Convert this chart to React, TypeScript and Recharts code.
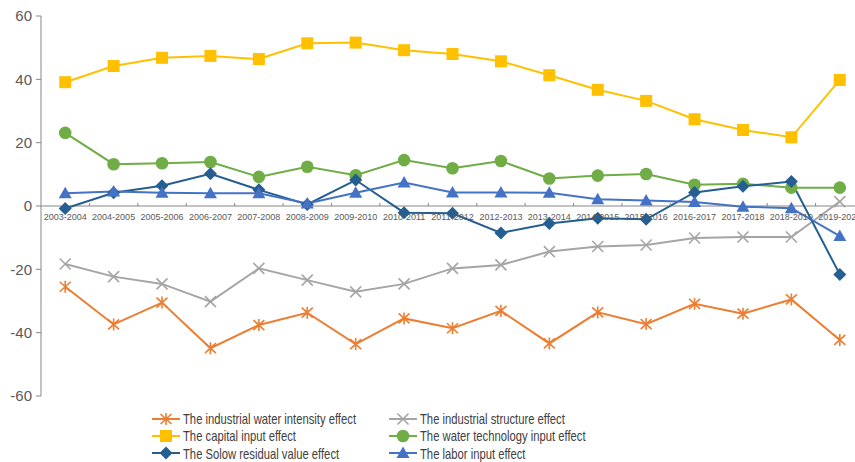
import React from "react"
import { LineChart, Line, XAxis, YAxis, ReferenceLine } from "recharts"

const PERIODS = [
  "2003-2004", "2004-2005", "2005-2006", "2006-2007", "2007-2008", "2008-2009",
  "2009-2010", "2010-2011", "2011-2012", "2012-2013", "2013-2014", "2014-2015",
  "2015-2016", "2016-2017", "2017-2018", "2018-2019", "2019-2020",
]

const WATER_INTENSITY = [-25.5, -37.4, -30.5, -44.9, -37.6, -33.7, -43.6, -35.5, -38.6, -33.1, -43.4, -33.6, -37.3, -30.9, -34.0, -29.5, -42.3]
const STRUCTURE = [-18.3, -22.3, -24.6, -30.2, -19.7, -23.4, -27.1, -24.6, -19.7, -18.6, -14.4, -12.8, -12.3, -10.1, -9.8, -9.8, 1.4]
const CAPITAL = [39.1, 44.2, 46.8, 47.4, 46.4, 51.4, 51.6, 49.2, 48.0, 45.7, 41.3, 36.7, 33.2, 27.4, 24.0, 21.7, 39.8]
const WATER_TECH = [23.1, 13.2, 13.5, 13.9, 9.2, 12.4, 9.7, 14.5, 11.9, 14.2, 8.7, 9.6, 10.1, 6.7, 7.0, 5.8, 5.8]
const SOLOW = [-0.8, 4.2, 6.4, 10.2, 5.1, 0.5, 8.2, -2.1, -2.3, -8.5, -5.5, -3.9, -4.2, 4.3, 6.2, 7.7, -21.6]
const LABOR = [4.0, 4.6, 4.2, 4.0, 4.0, 0.8, 4.2, 7.4, 4.3, 4.3, 4.2, 2.1, 1.7, 1.3, -0.2, -0.7, -9.5]

const Y_TICKS = [-60, -40, -20, 0, 20, 40, 60]

const data = PERIODS.map((period, i) => ({
  period,
  intensity: WATER_INTENSITY[i],
  structure: STRUCTURE[i],
  capital: CAPITAL[i],
  tech: WATER_TECH[i],
  solow: SOLOW[i],
  labor: LABOR[i],
}))

type MarkerKind = "asterisk" | "x" | "square" | "circle" | "diamond" | "triangle"

const SERIES: { key: string; name: string; color: string; marker: MarkerKind }[] = [
  { key: "intensity", name: "The industrial water intensity effect", color: "#ED7D31", marker: "asterisk" },
  { key: "structure", name: "The industrial structure effect", color: "#A5A5A5", marker: "x" },
  { key: "capital", name: "The capital input effect", color: "#FFC000", marker: "square" },
  { key: "tech", name: "The water technology input effect", color: "#70AD47", marker: "circle" },
  { key: "solow", name: "The Solow residual value effect", color: "#255E91", marker: "diamond" },
  { key: "labor", name: "The labor input effect", color: "#4472C4", marker: "triangle" },
]

// chart geometry (plot area runs past the right edge of the page, like the cropped original)
const CHART_W = 880
const CHART_H = 462
const TOP = 16
const RIGHT = 16
const Y_AXIS_W = 41
const X_AXIS_H = 66
const PLOT_W = CHART_W - RIGHT - Y_AXIS_W
const PLOT_H = CHART_H - TOP - X_AXIS_H
const ZERO_Y = TOP + PLOT_H / 2
const BAND = PLOT_W / PERIODS.length

function Marker({ kind, cx, cy, color }: { kind: MarkerKind; cx: number; cy: number; color: string }) {
  switch (kind) {
    case "square":
      return <rect x={cx - 6} y={cy - 6} width={12} height={12} fill={color} />
    case "circle":
      return <circle cx={cx} cy={cy} r={6.3} fill={color} />
    case "diamond":
      return <path d={`M${cx},${cy - 6.5}L${cx + 6.5},${cy}L${cx},${cy + 6.5}L${cx - 6.5},${cy}Z`} fill={color} />
    case "triangle":
      return <path d={`M${cx},${cy - 6.5}L${cx + 6.5},${cy + 5}L${cx - 6.5},${cy + 5}Z`} fill={color} />
    case "x":
      return (
        <path
          d={`M${cx - 5.5},${cy - 5.5}L${cx + 5.5},${cy + 5.5}M${cx + 5.5},${cy - 5.5}L${cx - 5.5},${cy + 5.5}`}
          stroke={color}
          strokeWidth={1.6}
        />
      )
    case "asterisk":
      return (
        <path
          d={`M${cx},${cy - 6}L${cx},${cy + 6}M${cx - 5.5},${cy - 5}L${cx + 5.5},${cy + 5}M${cx + 5.5},${cy - 5}L${cx - 5.5},${cy + 5}`}
          stroke={color}
          strokeWidth={1.6}
        />
      )
  }
  return null
}

function PeriodTick(props: any) {
  const { x, payload, index } = props
  const left = x - BAND / 2
  return (
    <g>
      {index > 0 && <line x1={left} x2={left} y1={ZERO_Y - 3} y2={ZERO_Y} stroke="#868686" />}
      {index === PERIODS.length - 1 && (
        <line x1={left + BAND} x2={left + BAND} y1={ZERO_Y - 3} y2={ZERO_Y} stroke="#868686" />
      )}
      <text
        x={x}
        y={ZERO_Y + 14}
        textAnchor="middle"
        fontSize={9}
        fill="#595959"
        fontFamily="'Liberation Sans', Arial, sans-serif"
      >
        {payload.value}
      </text>
    </g>
  )
}

function LegendItem({ s }: { s: (typeof SERIES)[number] }) {
  return (
    <div style={{ display: "flex", alignItems: "center", height: 17.3, whiteSpace: "nowrap" }}>
      <svg width={30} height={14} style={{ marginRight: 2, flex: "none" }}>
        <line x1={1} x2={29} y1={7} y2={7} stroke={s.color} strokeWidth={2} />
        <Marker kind={s.marker} cx={15} cy={7} color={s.color} />
      </svg>
      <span style={{ display: "inline-block", transform: "scaleX(0.75)", transformOrigin: "left center" }}>
        {s.name}
      </span>
    </div>
  )
}

export default function App() {
  return (
    <div style={{ position: "fixed", left: 0, top: 0, width: 855, height: 462, overflow: "hidden", background: "#fff" }}>
      <LineChart width={CHART_W} height={CHART_H} data={data} margin={{ top: TOP, right: RIGHT, left: 0, bottom: 0 }}>
        <XAxis
          dataKey="period"
          height={X_AXIS_H}
          axisLine={false}
          tickLine={false}
          interval={0}
          padding={{ left: BAND / 2, right: BAND / 2 }}
          tick={<PeriodTick />}
        />
        <YAxis
          width={Y_AXIS_W}
          domain={[-60, 60]}
          ticks={Y_TICKS}
          interval={0}
          stroke="#868686"
          tickSize={5}
          tickMargin={4}
          tick={{ fill: "#595959", fontSize: 15, fontFamily: "'Liberation Sans', Arial, sans-serif" }}
        />
        <ReferenceLine y={0} stroke="#868686" strokeWidth={1} />
        {SERIES.map((s) => (
          <Line
            key={s.key}
            type="linear"
            dataKey={s.key}
            name={s.name}
            stroke={s.color}
            strokeWidth={2}
            isAnimationActive={false}
            activeDot={false}
            dot={(p: any) => (
              <Marker key={`${s.key}-${p.index}`} kind={s.marker} cx={p.cx} cy={p.cy} color={s.color} />
            )}
          />
        ))}
      </LineChart>
      <div
        style={{
          position: "absolute",
          left: 151,
          top: 410,
          display: "grid",
          gridTemplateColumns: "237px 300px",
          fontFamily: "'Liberation Sans', Arial, sans-serif",
          fontSize: 15,
          color: "#404040",
        }}
      >
        {SERIES.map((s) => (
          <LegendItem key={s.key} s={s} />
        ))}
      </div>
    </div>
  )
}
